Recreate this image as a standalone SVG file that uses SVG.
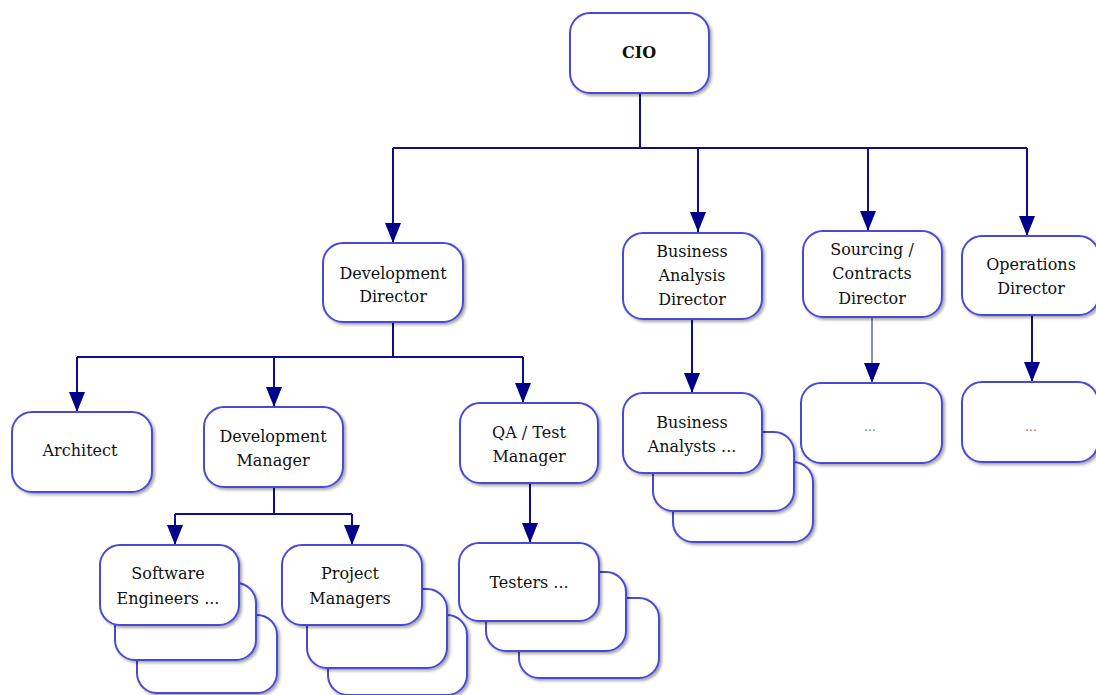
<svg xmlns="http://www.w3.org/2000/svg" width="1096" height="695" viewBox="0 0 1096 695">
<style>
.box{fill:#fff;stroke:#4a4ad8;stroke-width:2;filter:url(#sh)}
.t{font-family:"DejaVu Serif",serif;font-size:16px;fill:#111;text-anchor:middle}
.b{font-weight:bold}
.d{fill:#777;font-size:12px}
.c{fill:none;stroke:#0e0e8a;stroke-width:2}
.lt{stroke:#8c8cc4}
</style>
<defs>
<filter id="sh" x="-10%" y="-10%" width="130%" height="130%">
<feDropShadow dx="2" dy="2" stdDeviation="1.5" flood-color="#000" flood-opacity="0.35"/>
</filter>
<marker id="ad" markerWidth="16" markerHeight="20" refX="8" refY="20" markerUnits="userSpaceOnUse" viewBox="0 0 16 20">
<path d="M0,0 L16,0 L8,20 Z" fill="#00008a"/>
</marker>
</defs>
<g id="connectors">
<path class="c" d="M640,93 V148 M393,148 H1027"/>
<path class="c" d="M393,148 V243" marker-end="url(#ad)"/>
<path class="c" d="M698,148 V232" marker-end="url(#ad)"/>
<path class="c" d="M868,148 V231" marker-end="url(#ad)"/>
<path class="c" d="M1027,148 V236" marker-end="url(#ad)"/>
<path class="c" d="M393,322 V357 M77,357 H523"/>
<path class="c" d="M77,357 V412" marker-end="url(#ad)"/>
<path class="c" d="M274,357 V407" marker-end="url(#ad)"/>
<path class="c" d="M523,357 V403" marker-end="url(#ad)"/>
<path class="c" d="M274,487 V514 M175,514 H352"/>
<path class="c" d="M175,514 V545" marker-end="url(#ad)"/>
<path class="c" d="M352,514 V545" marker-end="url(#ad)"/>
<path class="c" d="M530,483 V543" marker-end="url(#ad)"/>
<path class="c" d="M692,319 V393" marker-end="url(#ad)"/>
<path class="c lt" d="M872,317 V383" marker-end="url(#ad)"/>
<path class="c" d="M1032,315 V382" marker-end="url(#ad)"/>
</g>
<g id="cio"><rect class="box" x="570" y="13" width="139" height="80" rx="20"/><text class="t b" x="639" y="58">CIO</text></g>
<g id="dev-director"><rect class="box" x="323" y="243" width="140" height="79" rx="20"/><text class="t" x="393" y="279">Development</text><text class="t" x="393" y="302">Director</text></g>
<g id="ba-director"><rect class="box" x="623" y="233" width="139" height="86" rx="20"/><text class="t" x="692" y="257">Business</text><text class="t" x="692" y="281">Analysis</text><text class="t" x="692" y="305">Director</text></g>
<g id="sourcing-director"><rect class="box" x="803" y="231" width="139" height="86" rx="20"/><text class="t" x="872" y="255">Sourcing /</text><text class="t" x="872" y="279">Contracts</text><text class="t" x="872" y="304">Director</text></g>
<g id="operations-director"><rect class="box" x="962" y="236" width="137" height="79" rx="20"/><text class="t" x="1031" y="270">Operations</text><text class="t" x="1031" y="294">Director</text></g>
<g id="architect"><rect class="box" x="12" y="412" width="140" height="80" rx="20"/><text class="t" x="80" y="456">Architect</text></g>
<g id="dev-manager"><rect class="box" x="204" y="407" width="139" height="80" rx="20"/><text class="t" x="273" y="442">Development</text><text class="t" x="273" y="466">Manager</text></g>
<g id="qa-manager"><rect class="box" x="460" y="403" width="138" height="80" rx="20"/><text class="t" x="529" y="438">QA / Test</text><text class="t" x="529" y="462">Manager</text></g>
<g id="software-engineers">
<rect class="box" x="137" y="615" width="140" height="78" rx="20"/>
<rect class="box" x="115" y="583" width="141" height="77" rx="20"/>
<rect class="box" x="100" y="545" width="139" height="80" rx="20"/>
<text class="t" x="168" y="579">Software</text><text class="t" x="168" y="604">Engineers ...</text>
</g>
<g id="project-managers">
<rect class="box" x="328" y="615" width="139" height="80" rx="20"/>
<rect class="box" x="307" y="589" width="140" height="79" rx="20"/>
<rect class="box" x="282" y="545" width="140" height="80" rx="20"/>
<text class="t" x="350" y="579">Project</text><text class="t" x="350" y="604">Managers</text>
</g>
<g id="testers">
<rect class="box" x="519" y="598" width="140" height="80" rx="20"/>
<rect class="box" x="486" y="572" width="140" height="79" rx="20"/>
<rect class="box" x="459" y="543" width="140" height="78" rx="20"/>
<text class="t" x="529" y="588">Testers ...</text>
</g>
<g id="business-analysts">
<rect class="box" x="673" y="462" width="140" height="80" rx="20"/>
<rect class="box" x="653" y="432" width="141" height="79" rx="20"/>
<rect class="box" x="623" y="393" width="139" height="80" rx="20"/>
<text class="t" x="692" y="428">Business</text><text class="t" x="692" y="452">Analysts ...</text>
</g>
<g id="sourcing-staff"><rect class="box" x="801" y="383" width="141" height="80" rx="20"/><text class="t d" x="870" y="431">...</text></g>
<g id="operations-staff"><rect class="box" x="962" y="382" width="136" height="80" rx="20"/><text class="t d" x="1031" y="431">...</text></g>
</svg>
